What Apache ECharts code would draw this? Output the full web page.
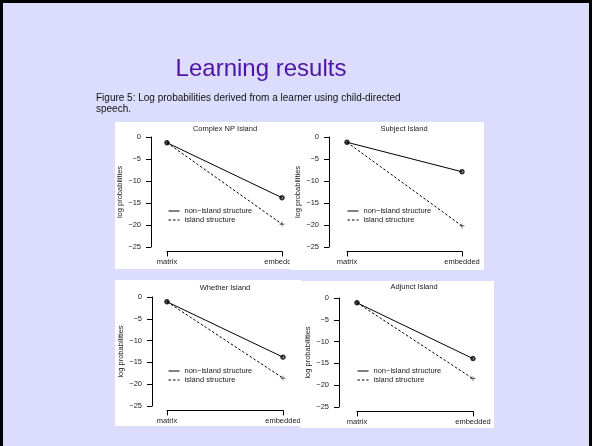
<!DOCTYPE html>
<html><head><meta charset="utf-8">
<script src="https://cdn.jsdelivr.net/npm/echarts@6.0.0/dist/echarts.min.js"></script>
<style>
html,body{margin:0;padding:0;width:592px;height:446px;overflow:hidden;background:#dcdcfc}
#slide{position:absolute;left:0;top:0;width:592px;height:446px}
.panel{position:absolute;background:#fff}
</style></head><body>
<div id="slide"></div>
<div id="p1" class="panel" style="left:115px;top:122px;width:178px;height:147px"></div>
<div id="p2" class="panel" style="left:290px;top:122px;width:194px;height:148px"></div>
<div id="p3" class="panel" style="left:115px;top:280px;width:186px;height:146px"></div>
<div id="p4" class="panel" style="left:300px;top:281px;width:194px;height:147px"></div>
<script>
// ---- data ----
const slideTitle = 'Learning results';
const captionLines = ['Figure 5: Log probabilities derived from a learner using child-directed', 'speech.'];
const categories = ['matrix', 'embedded'];
const yTickMin = -25;
const yTickMax = 0;
const yTickStep = 5;
const yAxisTitle = 'log probabilities';
const legendNames = ['non\u2212island structure', 'island structure'];
const panelTitles = ['Complex NP Island', 'Subject Island', 'Whether Island', 'Adjunct Island'];
const complexNonIsland = [-1.3, -13.8];
const complexIsland = [-1.3, -19.8];
const subjectNonIsland = [-1.2, -7.9];
const subjectIsland = [-1.2, -20.2];
const whetherNonIsland = [-1.1, -13.8];
const whetherIsland = [-1.1, -18.6];
const adjunctNonIsland = [-1.1, -13.9];
const adjunctIsland = [-1.1, -18.5];

// ---- layout (pixel positions inside each panel) ----
const layouts = [
  {ax: 36, y0: 15, h25: 110, mx: 52, ex: 167, tx: 110, ty: 3, lx: 53, ly: 85, ng: 25},
  {ax: 39, y0: 15, h25: 110, mx: 57, ex: 172, tx: 114, ty: 3, lx: 57, ly: 85, ng: 25},
  {ax: 37, y0: 17, h25: 109, mx: 52, ex: 168, tx: 110, ty: 4, lx: 53, ly: 87, ng: 25},
  {ax: 39, y0: 17, h25: 109, mx: 57, ex: 173, tx: 114, ty: 2, lx: 57, ly: 86, ng: 25}
];

const FONT = '"Liberation Sans", Arial, Helvetica, sans-serif';
const TXT = '#222';
const plusPath = 'path://M4.4,0h1.2v4.4h4.4v1.2h-4.4v4.4h-1.2v-4.4h-4.4v-1.2h4.4z';

function panelOption(title, nonIsl, isl, L) {
  const ppu = L.h25 / (yTickMax - yTickMin);
  return {
    animation: false,
    textStyle: {fontFamily: FONT},
    title: {text: title, left: L.tx, top: L.ty, textAlign: 'center', padding: 0,
      textStyle: {fontSize: 7.5, fontWeight: 'normal', color: TXT, fontFamily: FONT}},
    legend: {orient: 'vertical', left: L.lx, top: L.ly, itemWidth: 11, itemHeight: 7, itemGap: 1,
      padding: 0, selectedMode: false, data: legendNames,
      itemStyle: {opacity: 0},
      lineStyle: {width: 1},
      textStyle: {fontSize: 7.5, color: TXT, fontFamily: FONT}},
    grid: [
      {left: L.mx, top: L.y0, width: L.ex - L.mx, height: ppu * 26, containLabel: false, outerBoundsMode: 'none'},
      {left: L.ax, top: L.y0, width: 1, height: L.h25, containLabel: false, outerBoundsMode: 'none'}
    ],
    xAxis: [
      {gridIndex: 0, type: 'category', data: categories, boundaryGap: false,
        axisLine: {onZero: false, lineStyle: {color: '#000', width: 1}},
        axisTick: {length: 5, alignWithLabel: true, lineStyle: {color: '#000', width: 1}},
        axisLabel: {fontSize: 7.5, color: TXT, margin: 7, fontFamily: FONT, showMinLabel: true, showMaxLabel: true, interval: 0},
        splitLine: {show: false}},
      {gridIndex: 1, type: 'value', show: false}
    ],
    yAxis: [
      {gridIndex: 0, type: 'value', min: yTickMin - 1, max: yTickMax, show: false},
      {gridIndex: 1, type: 'value', min: yTickMin, max: yTickMax, interval: yTickStep,
        axisLine: {show: true, onZero: false, lineStyle: {color: '#000', width: 1}},
        axisTick: {show: true, length: 5, lineStyle: {color: '#000', width: 1}},
        axisLabel: {fontSize: 7.5, color: TXT, margin: 10, fontFamily: FONT,
          formatter: v => String(v).replace('-', '\u2212')},
        splitLine: {show: false},
        name: yAxisTitle, nameLocation: 'middle', nameGap: L.ng, nameRotate: 90,
        nameTextStyle: {fontSize: 7.5, color: TXT, fontFamily: FONT}}
    ],
    series: [
      {name: legendNames[0], type: 'line', xAxisIndex: 0, yAxisIndex: 0, data: nonIsl, symbol: 'none',
        lineStyle: {color: '#000', width: 1, type: 'solid'}, itemStyle: {color: '#000'}},
      {name: legendNames[1], type: 'line', xAxisIndex: 0, yAxisIndex: 0, data: isl, symbol: 'none',
        lineStyle: {color: '#000', width: 1, type: [2.5, 2]}, itemStyle: {color: '#000'}},
      {type: 'scatter', xAxisIndex: 0, yAxisIndex: 0, data: nonIsl, symbol: 'emptyCircle', symbolSize: 3.5,
        itemStyle: {color: '#000', borderWidth: 0.8}},
      {type: 'scatter', xAxisIndex: 0, yAxisIndex: 0, data: isl, symbol: plusPath, symbolSize: 5,
        itemStyle: {color: '#000'}}
    ]
  };
}

// ---- slide ----
const slide = echarts.init(document.getElementById('slide'), null, {renderer: 'canvas'});
slide.setOption({
  animation: false,
  backgroundColor: '#dcdcfc',
  graphic: [
    {type: 'rect', shape: {x: 1.5, y: 1.5, width: 589, height: 470}, style: {fill: 'none', stroke: '#000', lineWidth: 3}},
    {type: 'text', x: 261, y: 69, style: {text: slideTitle, fill: '#4f12a6', font: '24px ' + FONT, textAlign: 'center', textVerticalAlign: 'middle'}},
    {type: 'text', x: 96, y: 92, style: {text: captionLines.join('\n'), fill: '#111', font: '10px ' + FONT, lineHeight: 11.5, textAlign: 'left', textVerticalAlign: 'top'}}
  ]
});

const panelData = [
  [complexNonIsland, complexIsland],
  [subjectNonIsland, subjectIsland],
  [whetherNonIsland, whetherIsland],
  [adjunctNonIsland, adjunctIsland]
];
['p1', 'p2', 'p3', 'p4'].forEach((id, i) => {
  const c = echarts.init(document.getElementById(id), null, {renderer: 'canvas'});
  c.setOption(panelOption(panelTitles[i], panelData[i][0], panelData[i][1], layouts[i]));
});
</script>
</body></html>
